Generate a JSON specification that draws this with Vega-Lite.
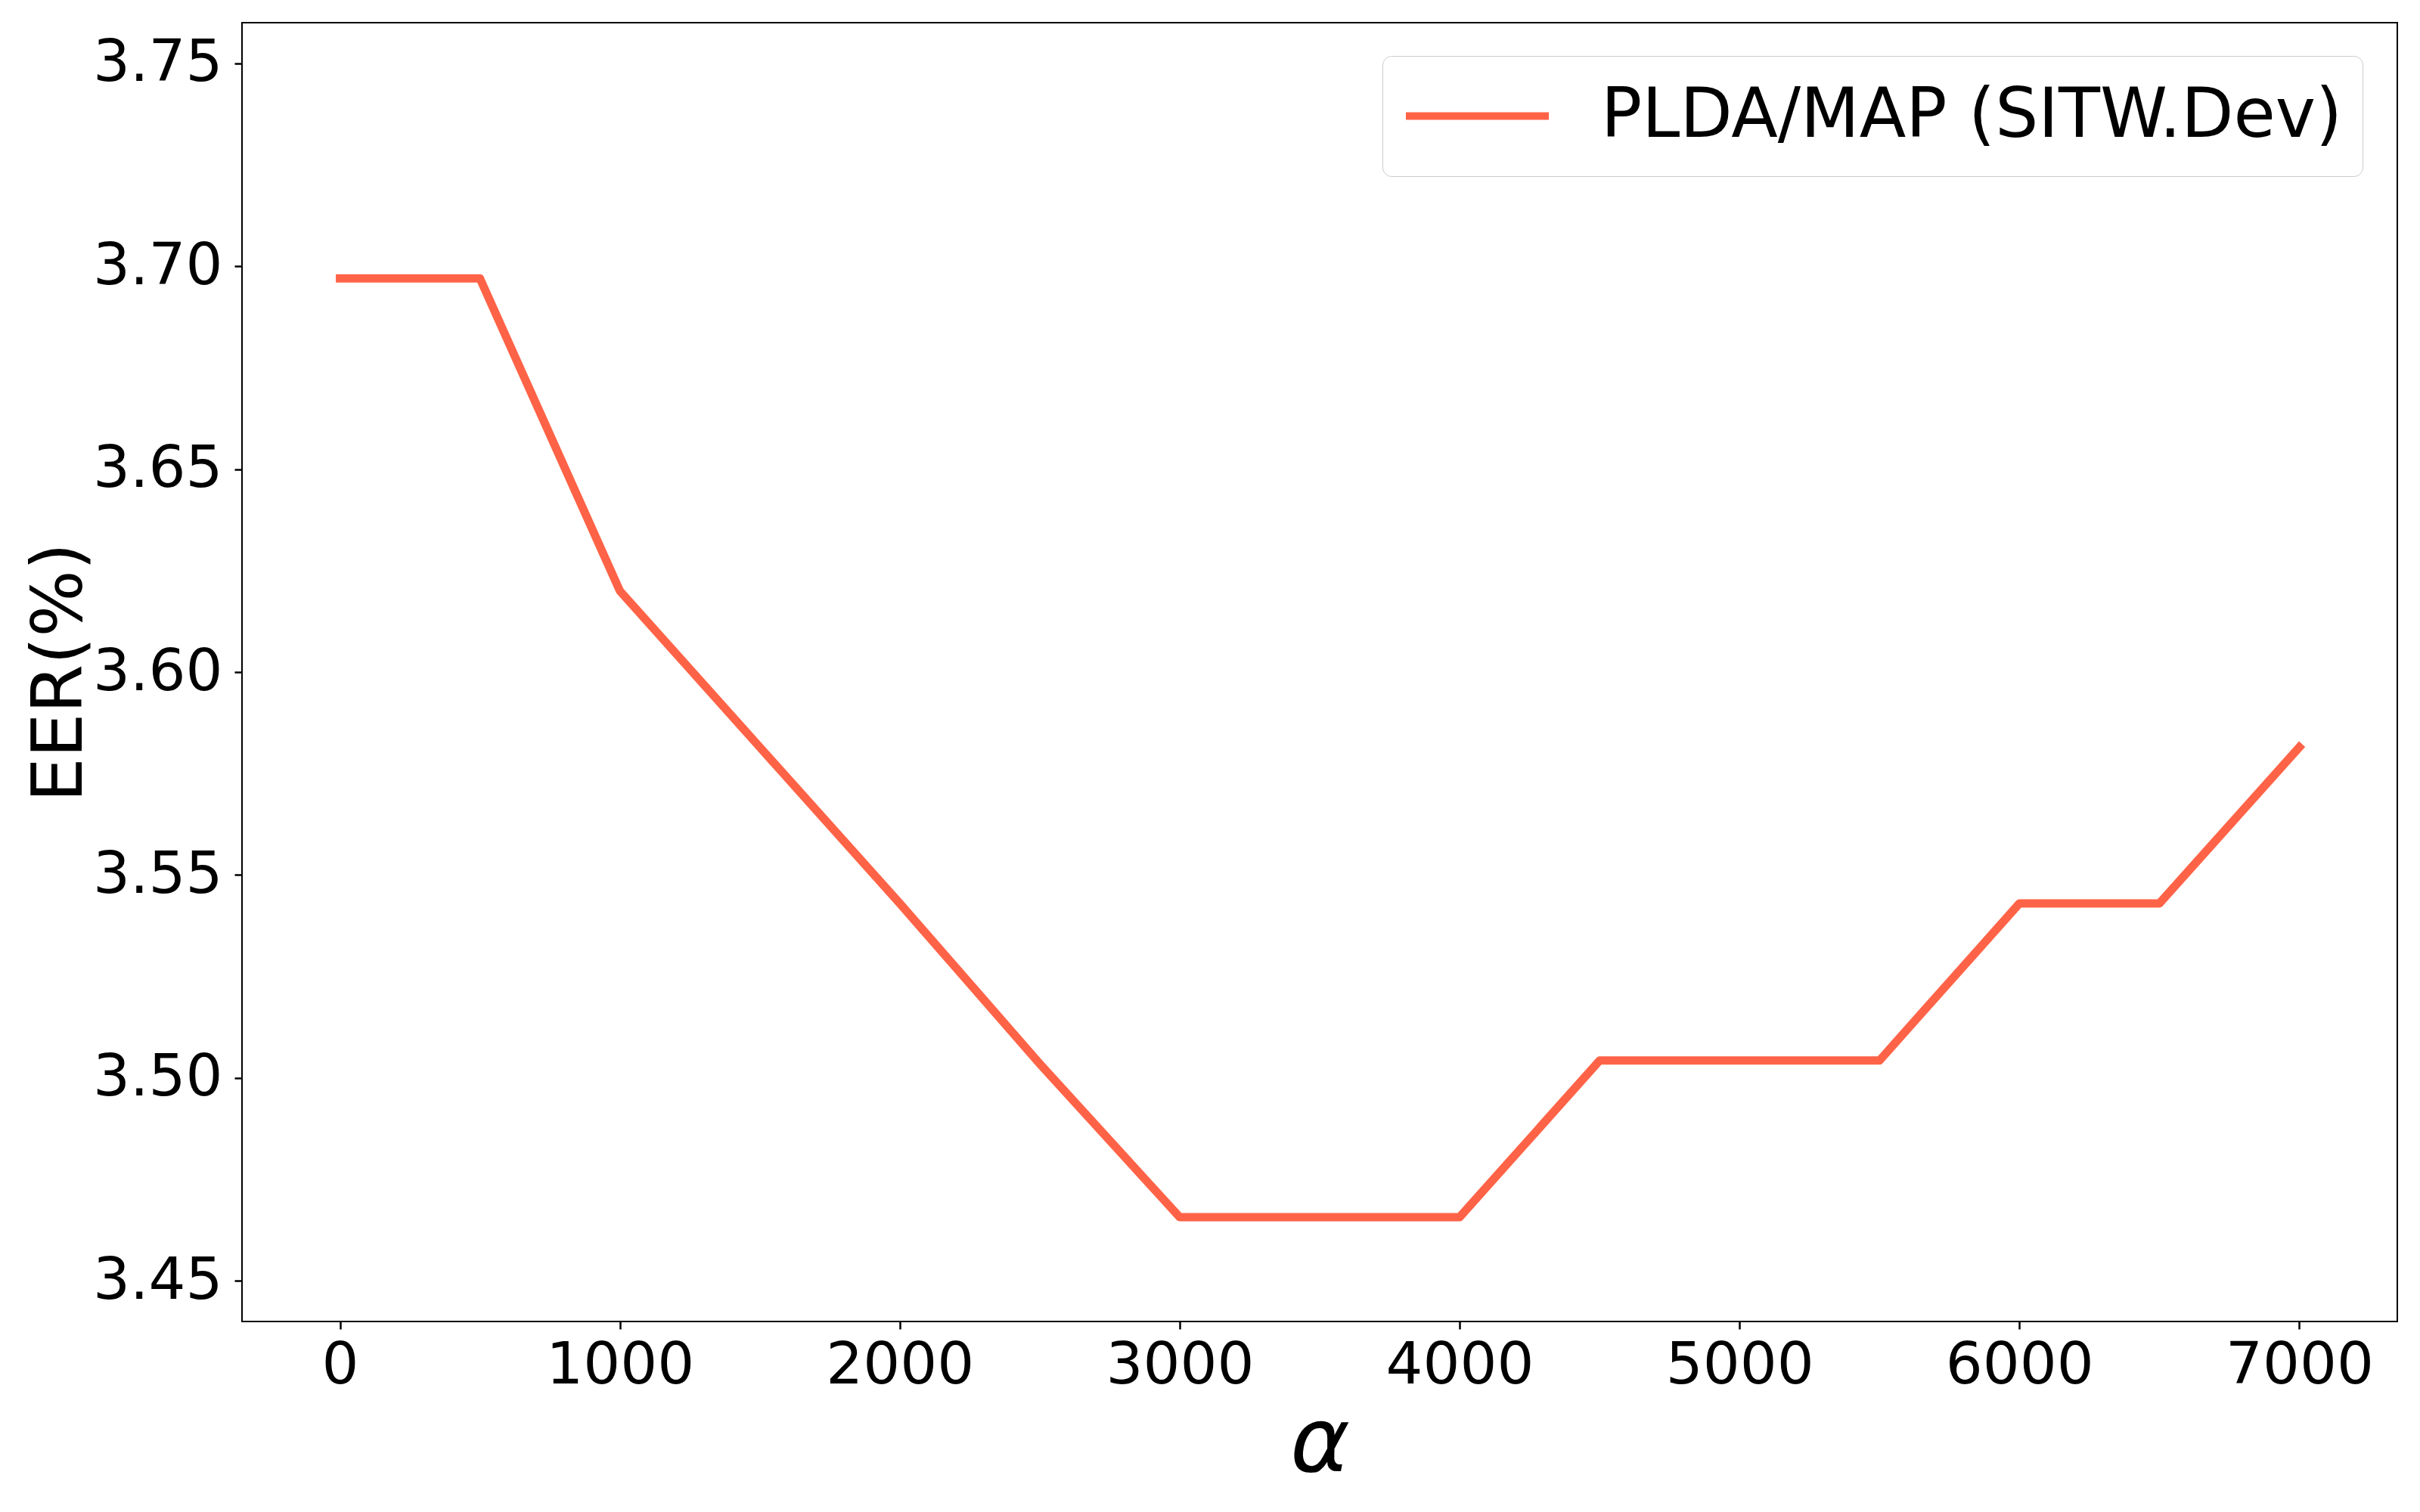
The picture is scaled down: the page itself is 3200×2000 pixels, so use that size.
{
  "$schema": "https://vega.github.io/schema/vega-lite/v6.json",
  "width": 2850,
  "height": 1718,
  "autosize": {"type": "none"},
  "padding": {"left": 320, "top": 30, "right": 30, "bottom": 252},
  "background": "white",
  "config": {
    "view": {"stroke": "black", "strokeWidth": 2},
    "font": "DejaVu Sans",
    "legend": {"strokeColor": "#cccccc"}
  },
  "data": {
    "values": [
      {"alpha": 0, "eer": 3.697, "series": "PLDA/MAP (SITW.Dev)"},
      {"alpha": 500, "eer": 3.697, "series": "PLDA/MAP (SITW.Dev)"},
      {"alpha": 1000, "eer": 3.620, "series": "PLDA/MAP (SITW.Dev)"},
      {"alpha": 1500, "eer": 3.5815, "series": "PLDA/MAP (SITW.Dev)"},
      {"alpha": 2000, "eer": 3.543, "series": "PLDA/MAP (SITW.Dev)"},
      {"alpha": 2500, "eer": 3.5035, "series": "PLDA/MAP (SITW.Dev)"},
      {"alpha": 3000, "eer": 3.4657, "series": "PLDA/MAP (SITW.Dev)"},
      {"alpha": 3500, "eer": 3.4657, "series": "PLDA/MAP (SITW.Dev)"},
      {"alpha": 4000, "eer": 3.4657, "series": "PLDA/MAP (SITW.Dev)"},
      {"alpha": 4500, "eer": 3.5043, "series": "PLDA/MAP (SITW.Dev)"},
      {"alpha": 5000, "eer": 3.5043, "series": "PLDA/MAP (SITW.Dev)"},
      {"alpha": 5500, "eer": 3.5043, "series": "PLDA/MAP (SITW.Dev)"},
      {"alpha": 6000, "eer": 3.543, "series": "PLDA/MAP (SITW.Dev)"},
      {"alpha": 6500, "eer": 3.543, "series": "PLDA/MAP (SITW.Dev)"},
      {"alpha": 7000, "eer": 3.5815, "series": "PLDA/MAP (SITW.Dev)"}
    ]
  },
  "mark": {"type": "line", "strokeWidth": 11, "strokeCap": "square", "strokeJoin": "round"},
  "encoding": {
    "x": {
      "field": "alpha",
      "type": "quantitative",
      "scale": {"domain": [-350, 7350], "nice": false, "zero": false},
      "axis": {
        "values": [0, 1000, 2000, 3000, 4000, 5000, 6000, 7000],
        "format": "d",
        "grid": false,
        "domain": false,
        "labelFontSize": 77,
        "labelColor": "black",
        "labelFlush": false,
        "labelOverlap": false,
        "labelLimit": 0,
        "labelPadding": 10,
        "tickColor": "black",
        "tickWidth": 2.5,
        "tickSize": 10,
        "title": "α",
        "titleFont": "DejaVu Sans",
        "titleFontStyle": "italic",
        "titleFontWeight": "normal",
        "titleFontSize": 120,
        "titleColor": "black",
        "titleBaseline": "alphabetic",
        "titleY": 197
      }
    },
    "y": {
      "field": "eer",
      "type": "quantitative",
      "scale": {"domain": [3.44, 3.76], "nice": false, "zero": false},
      "axis": {
        "values": [3.45, 3.5, 3.55, 3.6, 3.65, 3.7, 3.75],
        "format": ".2f",
        "grid": false,
        "domain": false,
        "labelFontSize": 77,
        "labelColor": "black",
        "labelFlush": false,
        "labelOverlap": false,
        "labelLimit": 0,
        "labelPadding": 16,
        "tickColor": "black",
        "tickWidth": 2.5,
        "tickSize": 10,
        "title": "EER(%)",
        "titleFontWeight": "normal",
        "titleFontSize": 93,
        "titleColor": "black",
        "titleBaseline": "alphabetic",
        "titleX": -213
      }
    },
    "color": {
      "field": "series",
      "type": "nominal",
      "scale": {"range": ["#FF6347"]},
      "legend": {
        "orient": "none",
        "legendX": 1508,
        "legendY": 44,
        "title": null,
        "labelFontSize": 90,
        "labelColor": "black",
        "labelFont": "DejaVu Sans",
        "labelLimit": 0,
        "symbolType": "stroke",
        "symbolStrokeWidth": 10,
        "symbolSize": 35721,
        "labelOffset": 64,
        "padding": 26,
        "clipHeight": 107,
        "cornerRadius": 12,
        "strokeColor": "#cccccc",
        "fillColor": "white"
      }
    }
  }
}
